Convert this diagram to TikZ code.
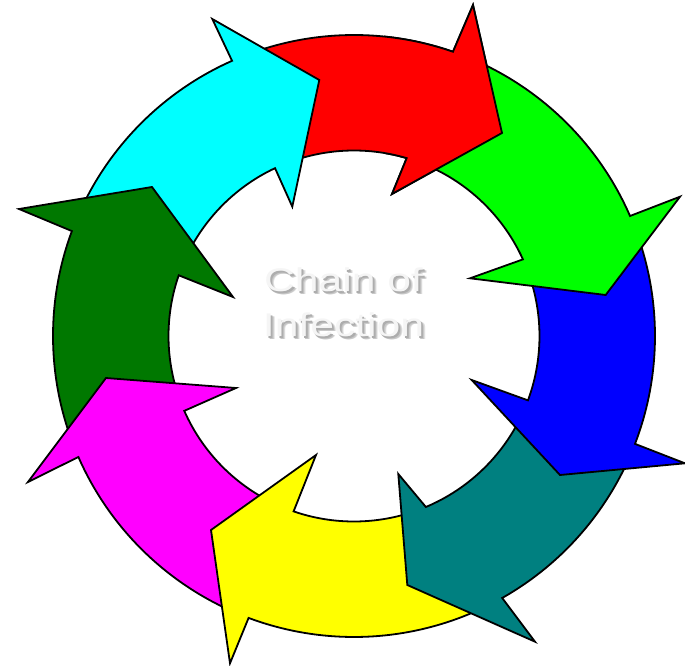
\documentclass[tikz,border=0pt]{standalone}
\usepackage{fontspec}
\setmainfont{Liberation Sans}
\definecolor{cred}{RGB}{255,0,0}
\definecolor{cgreen}{RGB}{0,255,0}
\definecolor{cblue}{RGB}{0,0,255}
\definecolor{cteal}{RGB}{0,128,128}
\definecolor{cyellow}{RGB}{255,255,0}
\definecolor{cmagenta}{RGB}{255,0,255}
\definecolor{cdkgreen}{RGB}{0,120,0}
\definecolor{ccyan}{RGB}{0,255,255}
\newcommand{\Ro}{301}
\newcommand{\Ri}{185.5}
% #1 colour, #2 tail outer angle, #3 tail inner angle, #4 outer notch angle,
% #5 inner notch angle, #6 outer barb, #7 tip, #8 inner barb
\newcommand{\ringarrow}[8]{%
  \draw[arrowstyle, fill=#1] (#2:\Ro) arc[start angle=#2, end angle=#4, radius=\Ro]
    -- #6 -- #7 -- #8 -- (#5:\Ri) arc[start angle=#5, end angle=#3, radius=\Ri] -- cycle;}
% text with a soft shadow to the lower right, all in one box
\newcommand{\shadowlayer}[3]{\rlap{\hspace*{#1}\raisebox{-#1}{\color{#2}#3}}}
\newcommand{\shadowtext}[1]{\scalebox{1.3}[1]{%
  \shadowlayer{3pt}{black!12}{#1}%
  \shadowlayer{2.2pt}{black!22}{#1}%
  \shadowlayer{1.4pt}{black!32}{#1}%
  {\color{white!96!black}#1}}}
\begin{document}
\begin{tikzpicture}[x=1pt, y=1pt,
  arrowstyle/.style={draw=black, line width=1.8pt, line join=miter},
  labeltext/.style={font=\fontsize{32.8}{45}\selectfont, inner sep=0pt, anchor=base}]
\useasboundingbox (-354,-330) rectangle (331,336);
% arrows, drawn so that every head lies over the tail of the next one
\ringarrow{cred}{110.9}{112.2}{70.8}{73.5}{(119,331)}{(148,203)}{(38,142)}
\ringarrow{ccyan}{-203.4}{-202.1}{-246.1}{-244.8}{(-141.7,317)}{(-34.7,256)}{(-61.7,129.3)}
\ringarrow{cdkgreen}{-159.3}{-159.2}{-200.4}{-199.1}{(-335,127)}{(-202,149)}{(-121,39)}
\ringarrow{cmagenta}{-113.5}{-112}{-156.3}{-156.2}{(-326,-146)}{(-248,-42)}{(-118,-52)}
\ringarrow{cyellow}{-63.5}{-70.2}{-110.5}{-109}{(-124,-327.3)}{(-143,-194)}{(-38,-119)}
\ringarrow{cteal}{-24}{-23.3}{-60.5}{-67.2}{(181,-305.7)}{(53.3,-249)}{(44.3,-138)}
\ringarrow{cblue}{20.5}{21.4}{-21}{-20.3}{(331,-127.3)}{(206,-139)}{(117.7,-44)}
\ringarrow{cgreen}{67.8}{70.5}{23.5}{24.4}{(326,139.3)}{(251.7,41)}{(116,57.7)}
\begin{scope}
  \clip (30,110) rectangle (200,340);
  \ringarrow{cred}{110.9}{112.2}{70.8}{73.5}{(119,331)}{(148,203)}{(38,142)}
\end{scope}
% centre label
\node[labeltext] (line1) at (-10.5,44) {\shadowtext{Chain of}};
\node[labeltext] (line2) at (-10.5,-1) {\shadowtext{Infection}};
\end{tikzpicture}
\end{document}
